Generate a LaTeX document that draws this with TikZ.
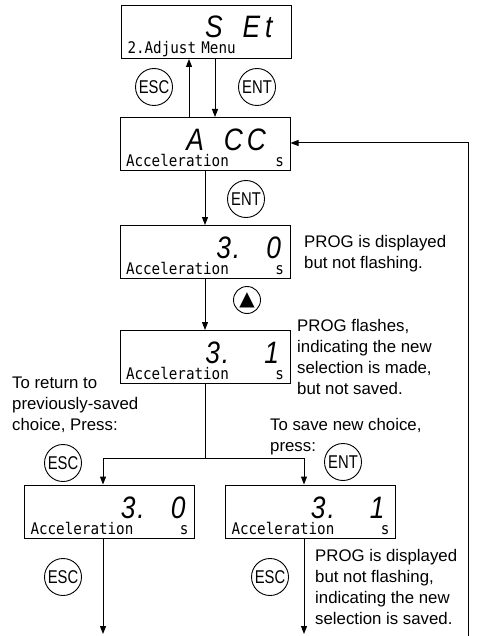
\documentclass[tikz,border=0pt]{standalone}
\usepackage{fontspec}
\setmainfont{Liberation Sans}
\newfontfamily\segfont{Liberation Sans}[FakeStretch=0.85]
\newfontfamily\keyfont{Liberation Sans}[FakeStretch=0.8]
\newfontfamily\lcdfont{DejaVu Sans Mono}[FakeStretch=0.89]
\newfontfamily\symfont{DejaVu Sans}
\usepackage{tikz}
\usetikzlibrary{arrows.meta,calc,positioning}
\newcommand{\seg}[1]{{\segfont\itshape\fontsize{31}{16}\selectfont\rule{0pt}{30pt}#1}}
\tikzset{
  lcd/.style={draw, line width=1pt, inner xsep=6pt, inner ysep=0pt, text width=158pt,
        minimum height=53pt, align=right, font=\lcdfont\fontsize{16}{16}\selectfont},
  btn/.style={draw, circle, line width=0.9pt, minimum size=37pt, inner sep=0pt,
        font=\keyfont\fontsize{18.5}{19}\selectfont},
  note/.style={anchor=north west, inner sep=0pt, align=left,
        font=\fontsize{16.8}{21}\selectfont},
  flow/.style={-{Stealth[length=8pt,width=6pt,inset=0pt]}, line width=1pt},
  wire/.style={line width=1pt},
}

\begin{document}
\begin{tikzpicture}[x=1pt,y=-1pt]
  \useasboundingbox (0,0) rectangle (479,636);
  % --- displays ---
  \node[lcd] (set) at (206.5,32) {\seg{S\kern20pt E\kern5pt t\kern13pt}\\2.Adjust Menu\hfill\null};
  \node[lcd] (acc) at (205,144) {\seg{A\kern20pt C\kern4pt C\kern18pt}\\Acceleration\hfill s};
  \node[lcd] (v30) at (205,252) {\seg{3\kern2pt.\kern26pt 0\kern3pt}\\Acceleration\hfill s};
  \node[lcd] (v31) at (205,357) {\seg{3\kern2pt.\kern35pt 1\kern5pt}\\Acceleration\hfill s};
  \node[lcd] (r30) at (109.5,511.5) {\seg{3\kern2pt.\kern26pt 0\kern3pt}\\Acceleration\hfill s};
  \node[lcd] (r31) at (310.5,511.5) {\seg{3\kern2pt.\kern35pt 1\kern5pt}\\Acceleration\hfill s};
  % --- keys ---
  \node[btn] (esc1) at (154,87) {ESC};
  \node[btn] (ent1) at (257,87) {ENT};
  \node[btn] (ent2) at (246,199) {ENT};
  \node[btn, minimum size=27pt, font=\symfont\fontsize{20}{20}\selectfont] (up) at (247,300) {▲};
  \node[btn] (esc2) at (63,463) {ESC};
  \node[btn] (ent3) at (343,462) {ENT};
  \node[btn] (esc3) at (63,577) {ESC};
  \node[btn] (esc4) at (270,577) {ESC};
  % --- notes ---
  \node[note] (n1) at (304,235) {PROG is displayed\\but not flashing.};
  \node[note] (n2) at (297,319) {PROG flashes,\\indicating the new\\selection is made,\\but not saved.};
  \node[note] (n3) at (12,377) {To return to\\previously-saved\\choice, Press:};
  \node[note] (n4) at (270,418) {To save new choice,\\press:};
  \node[note] (n5) at (315,549) {PROG is displayed\\but not flashing,\\indicating the new\\selection is saved.};
  % --- connectors ---
  \coordinate (split) at (205,458);
  \coordinate (fb) at (468,636);
  \coordinate (o30) at (103,634);
  \coordinate (o31) at (304,634);
  \draw[flow] ([xshift=-16pt]acc.north) -- ([xshift=-17.5pt]set.south);
  \draw[flow] ([xshift=8.5pt]set.south) -- ([xshift=10pt]acc.north);
  \draw[flow] (acc) -- (v30);
  \draw[flow] (v30) -- (v31);
  \draw[wire] (v31.south) -- (split);
  \draw[flow] (split) -| ([xshift=-6.5pt]r30.north);
  \draw[flow] (split) -| ([xshift=-6.5pt]r31.north);
  \draw[flow] ([xshift=-6.5pt]r30.south) -- (o30);
  \draw[flow] ([xshift=-6.5pt]r31.south) -- (o31);
  \draw[flow] (fb) |- ([yshift=1pt]acc.east);
\end{tikzpicture}
\end{document}
